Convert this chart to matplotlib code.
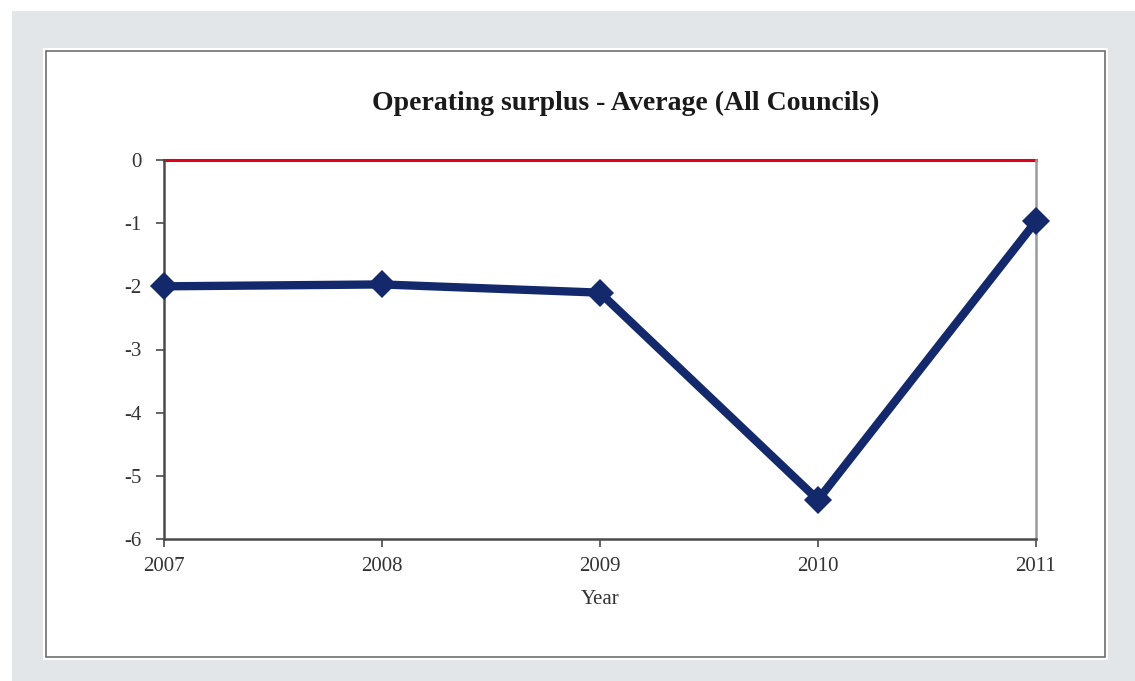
import matplotlib
matplotlib.use("Agg")
import matplotlib.pyplot as plt
from matplotlib.patches import Rectangle

# Data
years = [2007, 2008, 2009, 2010, 2011]
surplus = [-2.0, -1.97, -2.1, -5.38, -0.97]
yticks = [0, -1, -2, -3, -4, -5, -6]
ytick_labels = ["0", "-1", "-2", "-3", "-4", "-5", "-6"]

W, H = 1135, 681
fig = plt.figure(figsize=(W / 100, H / 100), dpi=100)
fig.patch.set_facecolor("white")

def fx(px):
    return px / W

def fy(py):
    return 1 - py / H

# Grey frame and white chart area
fig.patches.append(Rectangle((fx(12), 0), 1 - fx(12), fy(11), transform=fig.transFigure,
                             facecolor="#e2e6e9", edgecolor="none", zorder=0))
fig.patches.append(Rectangle((fx(43), fy(660)), fx(1108 - 43), (660 - 48) / H,
                             transform=fig.transFigure, facecolor="white",
                             edgecolor="none", zorder=1))
fig.patches.append(Rectangle((fx(46), fy(657)), fx(1105 - 46), (657 - 51) / H,
                             transform=fig.transFigure, facecolor="none",
                             edgecolor="#6e6e6e", linewidth=1.2, zorder=2))

left, right, top, bottom = 164, 1036, 160, 539
ax = fig.add_axes([fx(left), fy(bottom), fx(right - left), (bottom - top) / H])
ax.set_zorder(3)
ax.set_facecolor("white")

serif = ["Liberation Serif", "DejaVu Serif"]

ax.axhline(0, color="#e3001b", linewidth=2.2, zorder=2, clip_on=False)
ax.plot(years, surplus, color="#13296b", linewidth=6, marker="D", markersize=14,
        markeredgewidth=0, zorder=4, clip_on=False)

ax.set_xlim(2007, 2011)
ax.set_ylim(-6, 0)
ax.set_xticks(years)
ax.set_xticklabels([str(y) for y in years], family=serif, fontsize=15, color="#333333")
ax.set_yticks(yticks)
ax.set_yticklabels(ytick_labels, family=serif, fontsize=15, color="#333333")

for s in ["left", "bottom"]:
    ax.spines[s].set_color("#4a4a4a")
    ax.spines[s].set_linewidth(1.8)
ax.spines["right"].set_color("#9a9a9a")
ax.spines["right"].set_linewidth(1.8)
ax.spines["top"].set_visible(False)

ax.tick_params(axis="both", direction="out", length=6, width=1.2, color="#4a4a4a")
ax.tick_params(axis="y", pad=10)
ax.tick_params(axis="x", pad=7)

ax.set_xlabel("Year", family=serif, fontsize=15, color="#333333", labelpad=10)

fig.text(fx(626), fy(103), "Operating surplus - Average (All Councils)", family=serif,
         fontsize=20, fontweight="bold", ha="center", va="center", color="#1a1a1a")

fig.savefig("out.png", dpi=100)
